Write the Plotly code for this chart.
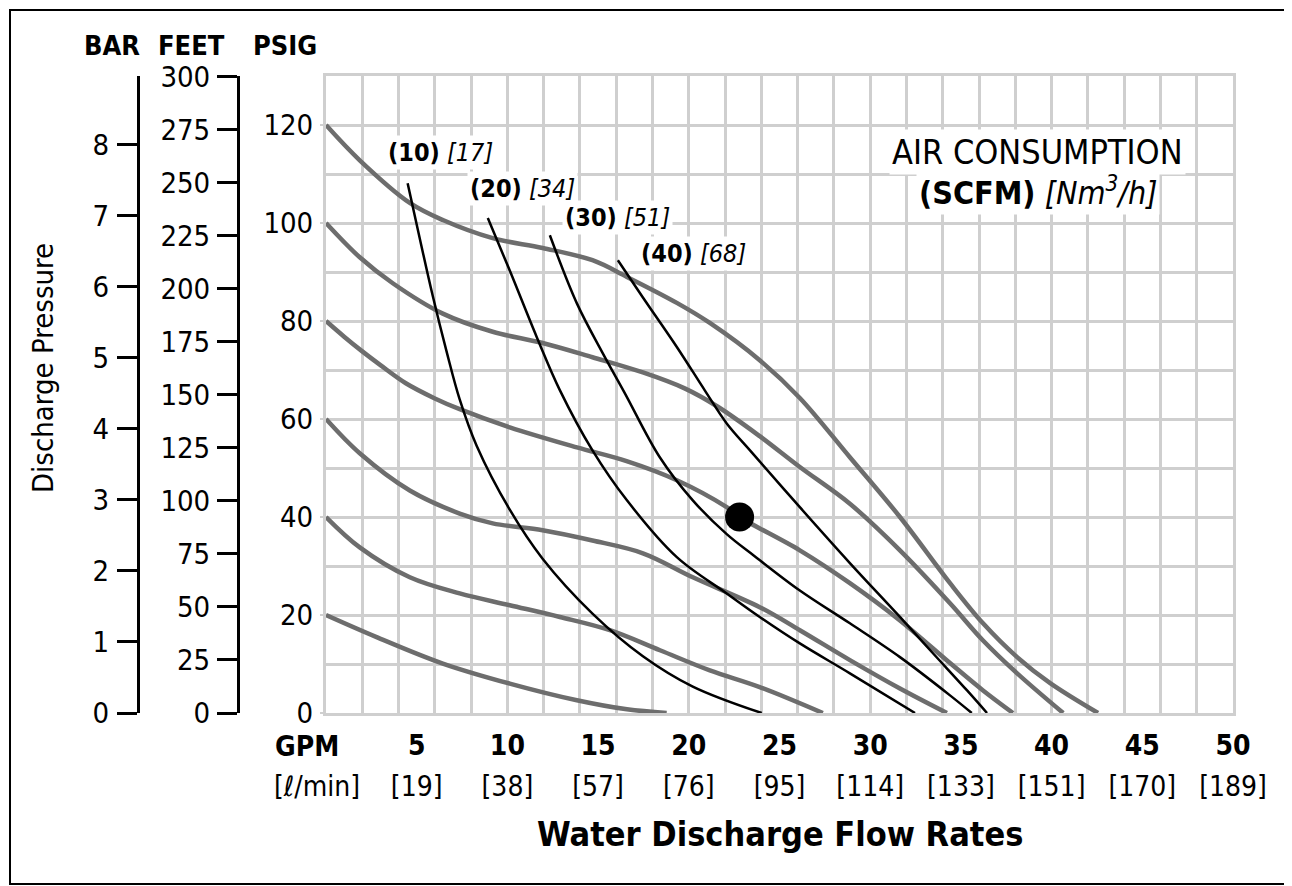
import plotly.graph_objects as go

# ---------------- data ----------------
gpm_ticks = [5, 10, 15, 20, 25, 30, 35, 40, 45, 50]
lpm_ticks = [19, 38, 57, 76, 95, 114, 133, 151, 170, 189]
psi_ticks = [0, 20, 40, 60, 80, 100, 120]
bar_ticks = [0, 1, 2, 3, 4, 5, 6, 7, 8]
feet_ticks = [0, 25, 50, 75, 100, 125, 150, 175, 200, 225, 250, 275, 300]

# discharge-pressure curves (GPM, PSIG)
g120_x = [0, 1.86, 4.62, 6.44, 9.19, 11.94, 14.69, 16.59, 19.34, 21.16, 23.91, 26.12, 28.88, 31.64, 34.4, 36.22, 38.1, 39.92, 42.56]
g120_y = [120, 112.8, 104.1, 100.6, 96.9, 94.9, 92.4, 89.0, 83.7, 79.6, 72.0, 64.3, 52.2, 40.0, 26.5, 18.3, 11.4, 6.1, 0]
g100_x = [0, 1.86, 3.68, 6.44, 9.19, 11.94, 14.69, 17.47, 19.8, 21.6, 23.91, 26.12, 28.88, 31.64, 34.4, 36.22, 38.1, 40.64]
g100_y = [100, 93.0, 87.7, 81.5, 77.8, 75.5, 72.6, 69.5, 66.2, 62.5, 56.5, 50.2, 42.7, 33.2, 22.4, 14.8, 8.1, 0]
g80_x = [0, 1, 2, 3, 4.4, 6, 7.37, 10.13, 13.83, 16.57, 19.34, 22.09, 22.8, 26.12, 28.88, 31.64, 34.4, 36.22, 37.87]
g80_y = [80, 76.8, 73.8, 71.0, 67.3, 64.2, 62.0, 58.3, 54.2, 51.4, 47.5, 42.0, 40.0, 33.2, 26.5, 18.9, 10.2, 4.6, 0]
g60_x = [0, 1.86, 4.62, 7.37, 9.19, 11.94, 14.69, 17.47, 20.22, 23.91, 26.12, 28.88, 31.64, 34.23]
g60_y = [60, 53.0, 45.4, 40.7, 38.7, 37.3, 35.2, 32.6, 27.7, 21.6, 16.9, 10.8, 5.0, 0]
g40_x = [0, 1.86, 4.62, 7.37, 10.13, 12.89, 15.65, 18.41, 21.16, 23.91, 27.39]
g40_y = [40, 33.8, 27.7, 24.4, 22.0, 19.6, 16.9, 12.8, 8.7, 5.3, 0]
g20_x = [0, 2.79, 6.44, 10.13, 13.83, 16.59, 18.78]
g20_y = [20, 15.5, 10.1, 6.0, 2.6, 0.75, 0]

# air consumption curves (GPM, PSIG)
b10_x = [4.5, 5.16, 5.88, 6.66, 7.37, 8.31, 10.13, 11.94, 14.69, 17.47, 20.22, 24.02]
b10_y = [108.1, 97.0, 85.2, 73.6, 64.0, 54.5, 41.5, 31.5, 20.3, 11.6, 5.4, 0]
b20_x = [8.92, 10.13, 11.62, 12.89, 14.69, 16.59, 19.34, 22.09, 23.91, 26.12, 28.88, 32.47]
b20_y = [101.0, 90.3, 76.7, 65.9, 53.6, 43.4, 31.8, 24.4, 19.6, 14.2, 8.1, 0]
b30_x = [12.34, 13.83, 15.26, 16.47, 18.4, 20.22, 22.09, 23.63, 26.12, 28.88, 31.64, 34.4, 35.6]
b30_y = [97.5, 83.6, 73.4, 65.3, 52.2, 43.4, 36.5, 32.0, 25.0, 18.3, 11.4, 3.6, 0]
b40_x = [16.09, 17.47, 19.34, 20.89, 22.09, 23.47, 26.12, 28.88, 31.64, 33.46, 35.34, 36.44]
b40_y = [92.4, 84.8, 74.7, 65.8, 59.1, 53.2, 42.0, 30.6, 19.6, 12.2, 4.6, 0]

scfm_labels = [10, 20, 30, 40]
nm3h_labels = [17, 34, 51, 68]

point_x = [22.8]
point_y = [40]

# ---------------- styling ----------------
FONT = "DejaVu Sans Condensed, Liberation Sans Narrow, DejaVu Sans, sans-serif"
GRAY = "#6d6d6d"
GRID = "#cfcfcf"
OFF = 8                         # default page margin of the html body
W, H = 1292 - OFF, 886 - OFF
# paper frame in page pixels
PL, PR, PT, PB = 10, 1233, 76, 713
PSI_MAX = 130


def px(x):
    return (x - PL) / (PR - PL)


def py(y):
    return (PB - y) / (PB - PT)


fig = go.Figure()

gray_curves = [(g120_x, g120_y), (g100_x, g100_y), (g80_x, g80_y),
               (g60_x, g60_y), (g40_x, g40_y), (g20_x, g20_y)]
for xs, ys in gray_curves:
    fig.add_trace(go.Scatter(x=xs, y=ys, mode="lines",
                             line=dict(color=GRAY, width=4.5, shape="spline", smoothing=1.0),
                             hoverinfo="skip", showlegend=False))

black_curves = [(b10_x, b10_y), (b20_x, b20_y), (b30_x, b30_y), (b40_x, b40_y)]
for xs, ys in black_curves:
    fig.add_trace(go.Scatter(x=xs, y=ys, mode="lines",
                             line=dict(color="black", width=2.5, shape="spline", smoothing=1.0),
                             hoverinfo="skip", showlegend=False))

fig.add_trace(go.Scatter(x=point_x, y=point_y, mode="markers",
                         marker=dict(color="black", size=29), showlegend=False))

# dummy traces to keep the extra axes alive
fig.add_trace(go.Scatter(x=[None], y=[None], xaxis="x2", yaxis="y", showlegend=False))
fig.add_trace(go.Scatter(x=[None], y=[None], xaxis="x3", yaxis="y", showlegend=False))
fig.add_trace(go.Scatter(x=[None], y=[None], xaxis="x", yaxis="y2", showlegend=False))
fig.add_trace(go.Scatter(x=[None], y=[None], xaxis="x", yaxis="y3", showlegend=False))

xdom = [px(326), 1.0]

fig.update_layout(
    width=W, height=H,
    margin=dict(l=PL - OFF, r=1292 - PR, t=PT - OFF, b=886 - PB, pad=0),
    paper_bgcolor="white", plot_bgcolor="white",
    font=dict(family=FONT, color="black"),
    showlegend=False,
    xaxis=dict(domain=xdom, range=[0, 50], dtick=2, tick0=0, showgrid=True,
               gridcolor=GRID, gridwidth=3, showticklabels=False, ticks="",
               showline=True, linecolor=GRID, linewidth=3, mirror=True, zeroline=False),
    xaxis2=dict(domain=xdom, range=[0, 50], overlaying="x", anchor="y", side="bottom",
                tickvals=gpm_ticks, ticktext=[f"<b>{v}</b>" for v in gpm_ticks],
                showgrid=False, ticks="", zeroline=False, ticklabelstandoff=13,
                tickfont=dict(size=28, family=FONT, color="black")),
    xaxis3=dict(domain=xdom, range=[0, 50], overlaying="x", anchor="y", side="bottom",
                tickvals=gpm_ticks, ticktext=[f"[{v}]" for v in lpm_ticks],
                showgrid=False, ticks="", zeroline=False, ticklabelstandoff=54,
                tickfont=dict(size=28, family=FONT, color="black")),
    yaxis=dict(range=[0, PSI_MAX], tickvals=psi_ticks,
               showgrid=True, gridcolor=GRID, gridwidth=3,
               minor=dict(dtick=10, tick0=0, showgrid=True, gridcolor=GRID, gridwidth=3, ticks=""),
               ticks="outside", ticklen=3, tickwidth=2, tickcolor=GRID,
               ticklabelstandoff=1, zeroline=False,
               showline=True, linecolor=GRID, linewidth=3, mirror=True,
               tickfont=dict(size=29, family=FONT, color="black")),
    yaxis2=dict(range=[0, PSI_MAX / 14.5038], overlaying="y", anchor="free",
                position=px(138), side="left", tickvals=bar_ticks,
                showgrid=False, zeroline=False, showline=True, linecolor="black",
                linewidth=3, ticks="outside", ticklen=20, tickwidth=3, tickcolor="black",
                ticklabelstandoff=2, tickfont=dict(size=29, family=FONT, color="black")),
    yaxis3=dict(range=[0, PSI_MAX * 2.31], overlaying="y", anchor="free",
                position=px(238), side="left", tickvals=feet_ticks,
                showgrid=False, zeroline=False, showline=True, linecolor="black",
                linewidth=3, ticks="outside", ticklen=20, tickwidth=3, tickcolor="black",
                ticklabelstandoff=1, tickfont=dict(size=29, family=FONT, color="black")),
)

ann = []


def add_text(text, x, y, size, xanchor="center", yanchor="middle", angle=0, bg=None):
    d = dict(text=text, x=px(x), y=py(y), xref="paper", yref="paper", showarrow=False,
             xanchor=xanchor, yanchor=yanchor, textangle=angle,
             font=dict(size=size, family=FONT, color="black"))
    if bg:
        d.update(bgcolor=bg, borderpad=2)
    ann.append(d)


add_text("<b>BAR</b>", 112, 45, 27)
add_text("<b>FEET</b>", 191, 45, 27)
add_text("<b>PSIG</b>", 285, 45, 27)
add_text("Discharge Pressure", 43, 368, 29, angle=-90)
add_text("<b>GPM</b>", 273, 746, 28, xanchor="left")
add_text("[\u2113/min]", 272, 786, 28, xanchor="left")
add_text("<b>Water Discharge Flow Rates</b>", 780, 834, 34)
add_text("AIR CONSUMPTION", 1037, 152, 34, bg="white")
add_text("<b>(SCFM)</b> <i>[Nm<sup>3</sup>/h]</i>", 1038, 191, 32, bg="white")

label_pos = [(385, 152), (467, 188), (562, 217), (638, 253)]
for (lx, ly), s, n in zip(label_pos, scfm_labels, nm3h_labels):
    add_text(f"<b>({s})</b> <i>[{n}]</i>", lx, ly, 25, xanchor="left", bg="white")

fig.update_layout(annotations=ann)

# outer frame (kept inside the figure area)
fig.add_shape(type="rect", xref="paper", yref="paper",
              x0=px(10), x1=px(1288), y0=py(884), y1=py(10),
              line=dict(color="black", width=2), fillcolor="rgba(0,0,0,0)", layer="above")

fig.write_html("out.html")
